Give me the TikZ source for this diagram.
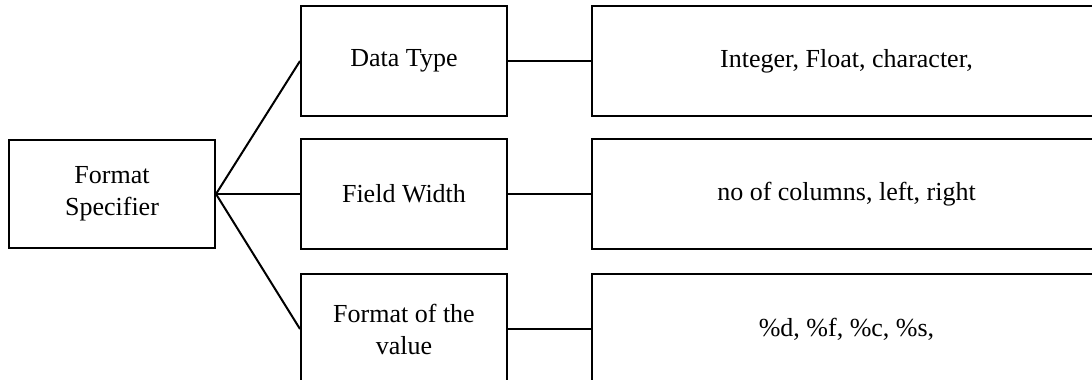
\documentclass[tikz,border=0pt]{standalone}
\usepackage{fontspec}
\setmainfont{Liberation Serif}
\begin{document}
\begin{tikzpicture}[x=0.5pt,y=-0.5pt,
  box/.style={draw=black,line width=1pt,minimum width=103pt,minimum height=55pt,
    align=center,font=\fontsize{13}{16}\selectfont,inner sep=0pt},
  widebox/.style={box,minimum width=254.5pt},
  link/.style={draw=black,line width=1pt}]
\useasboundingbox (0,0) rectangle (1092,380);
\clip (0,0) rectangle (1092,380);
\node [box,minimum height=54pt] (spec) at (112,194) {Format\\Specifier};
\node [box] (type) at (404,61) {Data Type};
\node [box] (width) at (404,194) {Field Width};
\node [box] (value) at (404,329) {Format of the\\value};
\node [widebox] (typeval) at (846.5,61) {Integer, Float, character,};
\node [widebox] (widthval) at (846.5,194) {no of columns, left, right};
\node [widebox] (valueval) at (846.5,329) {\%d, \%f, \%c, \%s,};
\draw [link] (spec.east) -- (type.west);
\draw [link] (spec.east) -- (width.west);
\draw [link] (spec.east) -- (value.west);
\draw [link] (type) -- (typeval);
\draw [link] (width) -- (widthval);
\draw [link] (value) -- (valueval);
\end{tikzpicture}
\end{document}
